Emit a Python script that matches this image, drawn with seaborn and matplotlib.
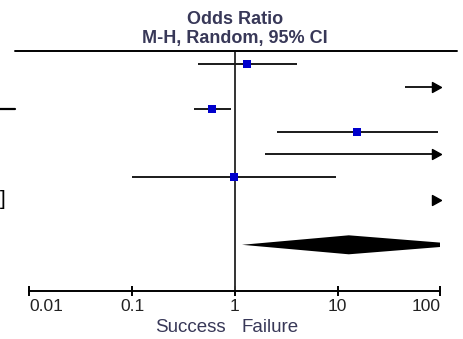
import numpy as np
import pandas as pd
import matplotlib
matplotlib.use("Agg")
import matplotlib.pyplot as plt
from matplotlib.patches import Rectangle
from matplotlib.transforms import blended_transform_factory
import seaborn as sns

# ---- data ----
study_or = [1.30, 250.0, 0.60, 15.5, 150.0, 0.98, 2000.0]
study_lo = [0.44, 44.9, 0.40, 2.59, 1.98, 0.10, 120.0]
study_hi = [3.99, 900.0, 0.91, 94.7, 11000.0, 9.6, 30000.0]
pooled_or, pooled_lo, pooled_hi = 12.8, 1.17, 184.0
tick_values = [0.01, 0.1, 1, 10, 100]
tick_labels = ["0.01", "0.1", "1", "10", "100"]
title_lines = ["Odds Ratio", "M-H, Random, 95% CI"]
left_label, right_label = "Success", "Failure"

sns.set_style("white")
plt.rcParams["font.family"] = ["Liberation Sans", "DejaVu Sans"]

W, H = 463, 339
fig = plt.figure(figsize=(W / 100, H / 100), dpi=100)
ax = fig.add_axes([0, 0, 1, 1])
ax.set_xscale("log")
XMIN, XMAX = 0.01, 100
ax.set_xlim(10 ** -2.2871, 10 ** 2.219)
ax.set_ylim(H, 0)

row0, step = 64.0, 22.6
n = len(study_or)
ys = [row0 + i * step for i in range(n)]
y_pool = row0 + (n + 1) * step
axis_y = 291

line_col = "#1a1a1a"
txt_col = "#383858"

# null line
ax.vlines(1, 52, axis_y, color="#333333", lw=1.4, zorder=1)

# arrowhead marker with tip at origin
arrow_marker = [(0, 0), (-1, 0.55), (-1, -0.55), (0, 0)]

pts = []
for y, est, lo, hi in zip(ys, study_or, study_lo, study_hi):
    x0, x1 = max(lo, XMIN), min(hi, XMAX)
    if x0 < x1:
        ax.hlines(y, x0, x1 if hi <= XMAX else XMAX * 0.93, color=line_col, lw=1.4, zorder=2)
    if hi > XMAX:
        ax.plot([XMAX * 1.01], [y], marker=arrow_marker, markersize=13,
                color="black", linestyle="none", zorder=3)
    if XMIN <= est <= XMAX:
        pts.append({"x": est, "y": y})

df = pd.DataFrame(pts)
sns.scatterplot(data=df, x="x", y="y", marker="s", s=38, color="#0000cc",
                edgecolor="#0000cc", linewidth=0, ax=ax, zorder=4)

# pooled diamond (clipped at axis end)
half = 9.5
dx = [pooled_lo, pooled_or, pooled_hi, pooled_or]
dy = [y_pool, y_pool - half, y_pool, y_pool + half]
poly = ax.fill(dx, dy, color="black", lw=0, zorder=3)[0]
clip = Rectangle((1e-4, 0), XMAX - 1e-4, H, transform=ax.transData)
poly.set_clip_path(clip)

# header
ax.text(1, 24, title_lines[0], ha="center", va="baseline", fontsize=13,
        fontweight="bold", color=txt_col)
ax.text(1, 43.5, title_lines[1], ha="center", va="baseline", fontsize=13,
        fontweight="bold", color=txt_col)
pix = blended_transform_factory(fig.dpi_scale_trans, ax.transData)
ax.plot([15 / 100, 457 / 100], [51, 51], color="black", lw=1.4,
        transform=pix, clip_on=False)

# cropped remnants of the left table
ax.plot([0, 15 / 100], [109, 109], color="black", lw=1.6, transform=pix, clip_on=False)
ax.text(6 / 100, ys[6], "]", ha="right", va="center", fontsize=15,
        color="black", transform=pix)

# axis
for s in ["left", "right", "top"]:
    ax.spines[s].set_visible(False)
ax.spines["bottom"].set_position(("data", axis_y))
ax.spines["bottom"].set_bounds(XMIN, XMAX)
ax.spines["bottom"].set_color("black")
ax.spines["bottom"].set_linewidth(1.4)
ax.set_xticks(tick_values)
ax.set_xticklabels(tick_labels)
ax.xaxis.set_minor_locator(matplotlib.ticker.NullLocator())
ax.tick_params(axis="x", direction="inout", length=7, width=1.4, color="black",
               labelsize=12.5, labelcolor="#222222", pad=2.5, bottom=True)
labels = ax.get_xticklabels()
labels[0].set_horizontalalignment("left")
labels[-1].set_horizontalalignment("right")
ax.set_yticks([])
ax.set_xlabel("")
ax.set_ylabel("")

ax.text(10 ** -0.09, 332, left_label, ha="right", va="baseline", fontsize=13.5, color=txt_col)
ax.text(10 ** 0.065, 332, right_label, ha="left", va="baseline", fontsize=13.5, color=txt_col)

fig.savefig("out.png", dpi=100)
